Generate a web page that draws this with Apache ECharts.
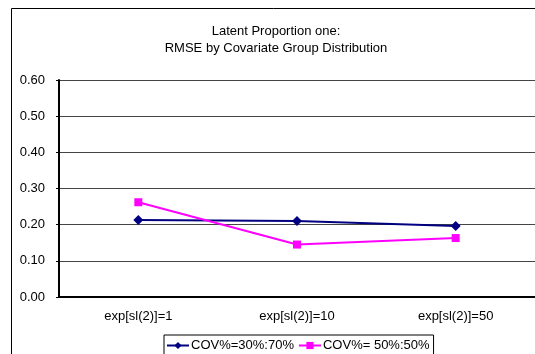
<!DOCTYPE html>
<html>
<head>
<meta charset="utf-8">
<script src="https://cdn.jsdelivr.net/npm/echarts@6/dist/echarts.min.js"></script>
<style>html,body{margin:0;padding:0;background:#fff}#c{width:535px;height:354px}</style>
</head>
<body>
<div id="c"></div>
<script>
const categories = ['exp[sl(2)]=1', 'exp[sl(2)]=10', 'exp[sl(2)]=50'];
const seriesNames = ['COV%=30%:70%', 'COV%= 50%:50%'];
const cov3070 = [0.213, 0.210, 0.196];
const cov5050 = [0.262, 0.145, 0.163];
const yTicks = { min: 0, max: 0.6, interval: 0.1 };
const titleLines = 'Latent Proportion one:\nRMSE by Covariate Group Distribution';

const chart = echarts.init(document.getElementById('c'), null, { renderer: 'canvas' });
const font = '"Liberation Sans", Arial, sans-serif';
chart.setOption({
  animation: false,
  backgroundColor: '#fff',
  textStyle: { fontFamily: font },
  graphic: [{
    type: 'rect', silent: true,
    shape: { x: 11.5, y: 8.5, width: 600, height: 400 },
    style: { fill: 'none', stroke: '#000', lineWidth: 1 }
  }],
  title: {
    text: titleLines,
    left: 271, top: 18, textAlign: 'center',
    textStyle: { fontFamily: font, fontSize: 13, fontWeight: 'normal', color: '#000', lineHeight: 17 }
  },
  legend: {
    left: 164, top: 335,
    padding: [4, 4, 8, 2],
    borderColor: '#000', borderWidth: 1,
    itemWidth: 22, itemHeight: 9, itemGap: 4,
    textStyle: { fontFamily: font, fontSize: 13, color: '#000', padding: [0, 0, 0, -3] },
    data: seriesNames
  },
  grid: { left: 59, top: 80, width: 477, height: 217, containLabel: false },
  xAxis: {
    type: 'category', data: categories, boundaryGap: true,
    axisLine: { lineStyle: { color: '#000', width: 2 } },
    axisTick: { inside: true, length: 4, lineStyle: { color: '#000' } },
    axisLabel: { color: '#000', fontSize: 13, margin: 13, fontFamily: font },
    splitLine: { show: false }
  },
  yAxis: {
    type: 'value', min: yTicks.min, max: yTicks.max, interval: yTicks.interval,
    axisLine: { show: true, lineStyle: { color: '#000', width: 2 } },
    axisTick: { show: true, length: 3, lineStyle: { color: '#000' } },
    axisLabel: { color: '#000', fontSize: 13, margin: 14, fontFamily: font, formatter: v => v.toFixed(2) },
    splitLine: { lineStyle: { color: '#444', width: 1 } }
  },
  series: [{
    name: seriesNames[0], type: 'line', data: cov3070,
    symbol: 'diamond', symbolSize: 10,
    lineStyle: { color: '#000080', width: 2 },
    itemStyle: { color: '#000080' }
  }, {
    name: seriesNames[1], type: 'line', data: cov5050,
    symbol: 'rect', symbolSize: 8,
    lineStyle: { color: '#FF00FF', width: 2 },
    itemStyle: { color: '#FF00FF' }
  }]
});
</script>
</body>
</html>
